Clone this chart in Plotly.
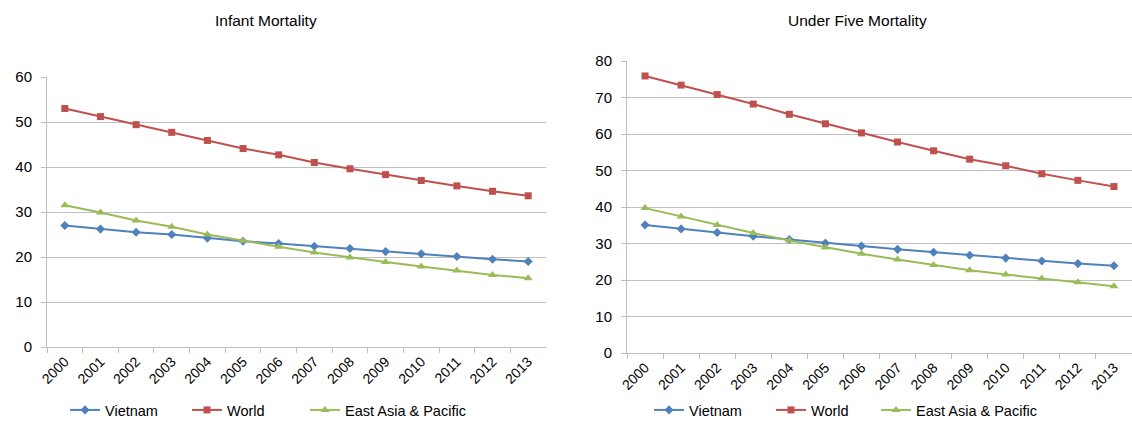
import plotly.graph_objects as go

years = [str(y) for y in range(2000, 2014)]

infant_vietnam = [27.0, 26.2, 25.5, 25.0, 24.2, 23.5, 23.0, 22.4, 21.9, 21.2, 20.7, 20.1, 19.5, 19.0]
infant_world = [53.0, 51.2, 49.4, 47.7, 45.9, 44.1, 42.7, 41.0, 39.6, 38.3, 37.0, 35.8, 34.6, 33.6]
infant_eap = [31.5, 29.9, 28.1, 26.7, 25.0, 23.6, 22.3, 21.0, 19.9, 18.9, 17.9, 17.0, 16.0, 15.3]

u5_vietnam = [35.1, 34.0, 33.0, 32.0, 31.1, 30.1, 29.3, 28.4, 27.6, 26.8, 26.0, 25.2, 24.5, 23.9]
u5_world = [75.9, 73.4, 70.8, 68.2, 65.4, 62.8, 60.3, 57.8, 55.4, 53.1, 51.3, 49.1, 47.3, 45.6]
u5_eap = [39.7, 37.4, 35.1, 32.9, 30.8, 28.9, 27.2, 25.6, 24.1, 22.7, 21.5, 20.4, 19.4, 18.3]

series_names = ["Vietnam", "World", "East Asia & Pacific"]
colors = ["#4F81BD", "#C0504D", "#9BBB59"]
symbols = ["diamond", "square", "triangle-up"]
msizes = [7, 7, 8]

FONT = "Liberation Sans, Arial, sans-serif"
W, H = 1132, 428

# legend line-start pixel positions for each entry (left chart, right chart)
leg_left_px = [70, 192, 310]
leg_right_px = [654, 776, 881]

fig = go.Figure()

for i, (name, vals) in enumerate(zip(series_names, [infant_vietnam, infant_world, infant_eap])):
    fig.add_trace(go.Scatter(
        x=years, y=vals, name=name, mode="lines+markers",
        line=dict(color=colors[i], width=2),
        marker=dict(symbol=symbols[i], size=msizes[i], color=colors[i]),
        xaxis="x", yaxis="y", legend="legend" if i == 0 else f"legend{i + 1}",
        showlegend=True,
    ))
for i, (name, vals) in enumerate(zip(series_names, [u5_vietnam, u5_world, u5_eap])):
    fig.add_trace(go.Scatter(
        x=years, y=vals, name=name, mode="lines+markers",
        line=dict(color=colors[i], width=2),
        marker=dict(symbol=symbols[i], size=msizes[i], color=colors[i]),
        xaxis="x2", yaxis="y2", legend=f"legend{i + 4}",
        showlegend=True,
    ))

grid = "#BFBFBF"

xcommon = dict(type="category", tickson="boundaries", ticks="outside", ticklen=5,
               tickcolor=grid, showline=True, linecolor=grid, linewidth=1,
               showgrid=False, tickangle=-45, range=[-0.5, 13.5], automargin=False,
               tickfont=dict(family=FONT, size=14, color="#000000"))
ycommon = dict(showline=True, linecolor=grid, linewidth=1, showgrid=True,
               gridcolor=grid, gridwidth=1, ticks="outside", ticklen=5, tickcolor=grid,
               zeroline=False, automargin=False,
               tickfont=dict(family=FONT, size=15, color="#000000"),
               ticklabelstandoff=6)

legcommon = dict(orientation="h", xanchor="left", yanchor="middle",
                 font=dict(family=FONT, size=14.5), bgcolor="rgba(0,0,0,0)",
                 borderwidth=0)

legends = {}
for k, px in enumerate(leg_left_px + leg_right_px):
    key = "legend" if k == 0 else f"legend{k + 1}"
    legends[key] = dict(x=(px - 5) / W, y=1 - 410 / H, **legcommon)

fig.update_layout(
    width=W, height=H,
    showlegend=True,
    margin=dict(l=0, r=0, t=0, b=0, autoexpand=False),
    paper_bgcolor="white", plot_bgcolor="white",
    font=dict(family=FONT, size=13, color="#000000"),
    xaxis=dict(domain=[47 / W, 546 / W], anchor="y", **xcommon),
    yaxis=dict(domain=[1 - 347 / H, 1 - 77 / H], anchor="x", range=[0, 60], dtick=10, **ycommon),
    xaxis2=dict(domain=[627 / W, 1.0], anchor="y2", **xcommon),
    yaxis2=dict(domain=[1 - 353 / H, 1 - 61 / H], anchor="x2", range=[0, 80], dtick=10, **ycommon),
    annotations=[
        dict(text="Infant Mortality", x=266 / W, y=1 - 20 / H, xref="paper", yref="paper",
             showarrow=False, xanchor="center", yanchor="middle",
             font=dict(family=FONT, size=15.5, color="#000000")),
        dict(text="Under Five Mortality", x=857 / W, y=1 - 20 / H, xref="paper", yref="paper",
             showarrow=False, xanchor="center", yanchor="middle",
             font=dict(family=FONT, size=15.5, color="#000000")),
    ],
    **legends,
)

fig.write_html("out.html", config={"displayModeBar": False},
               post_script="document.body.style.margin='0';")
